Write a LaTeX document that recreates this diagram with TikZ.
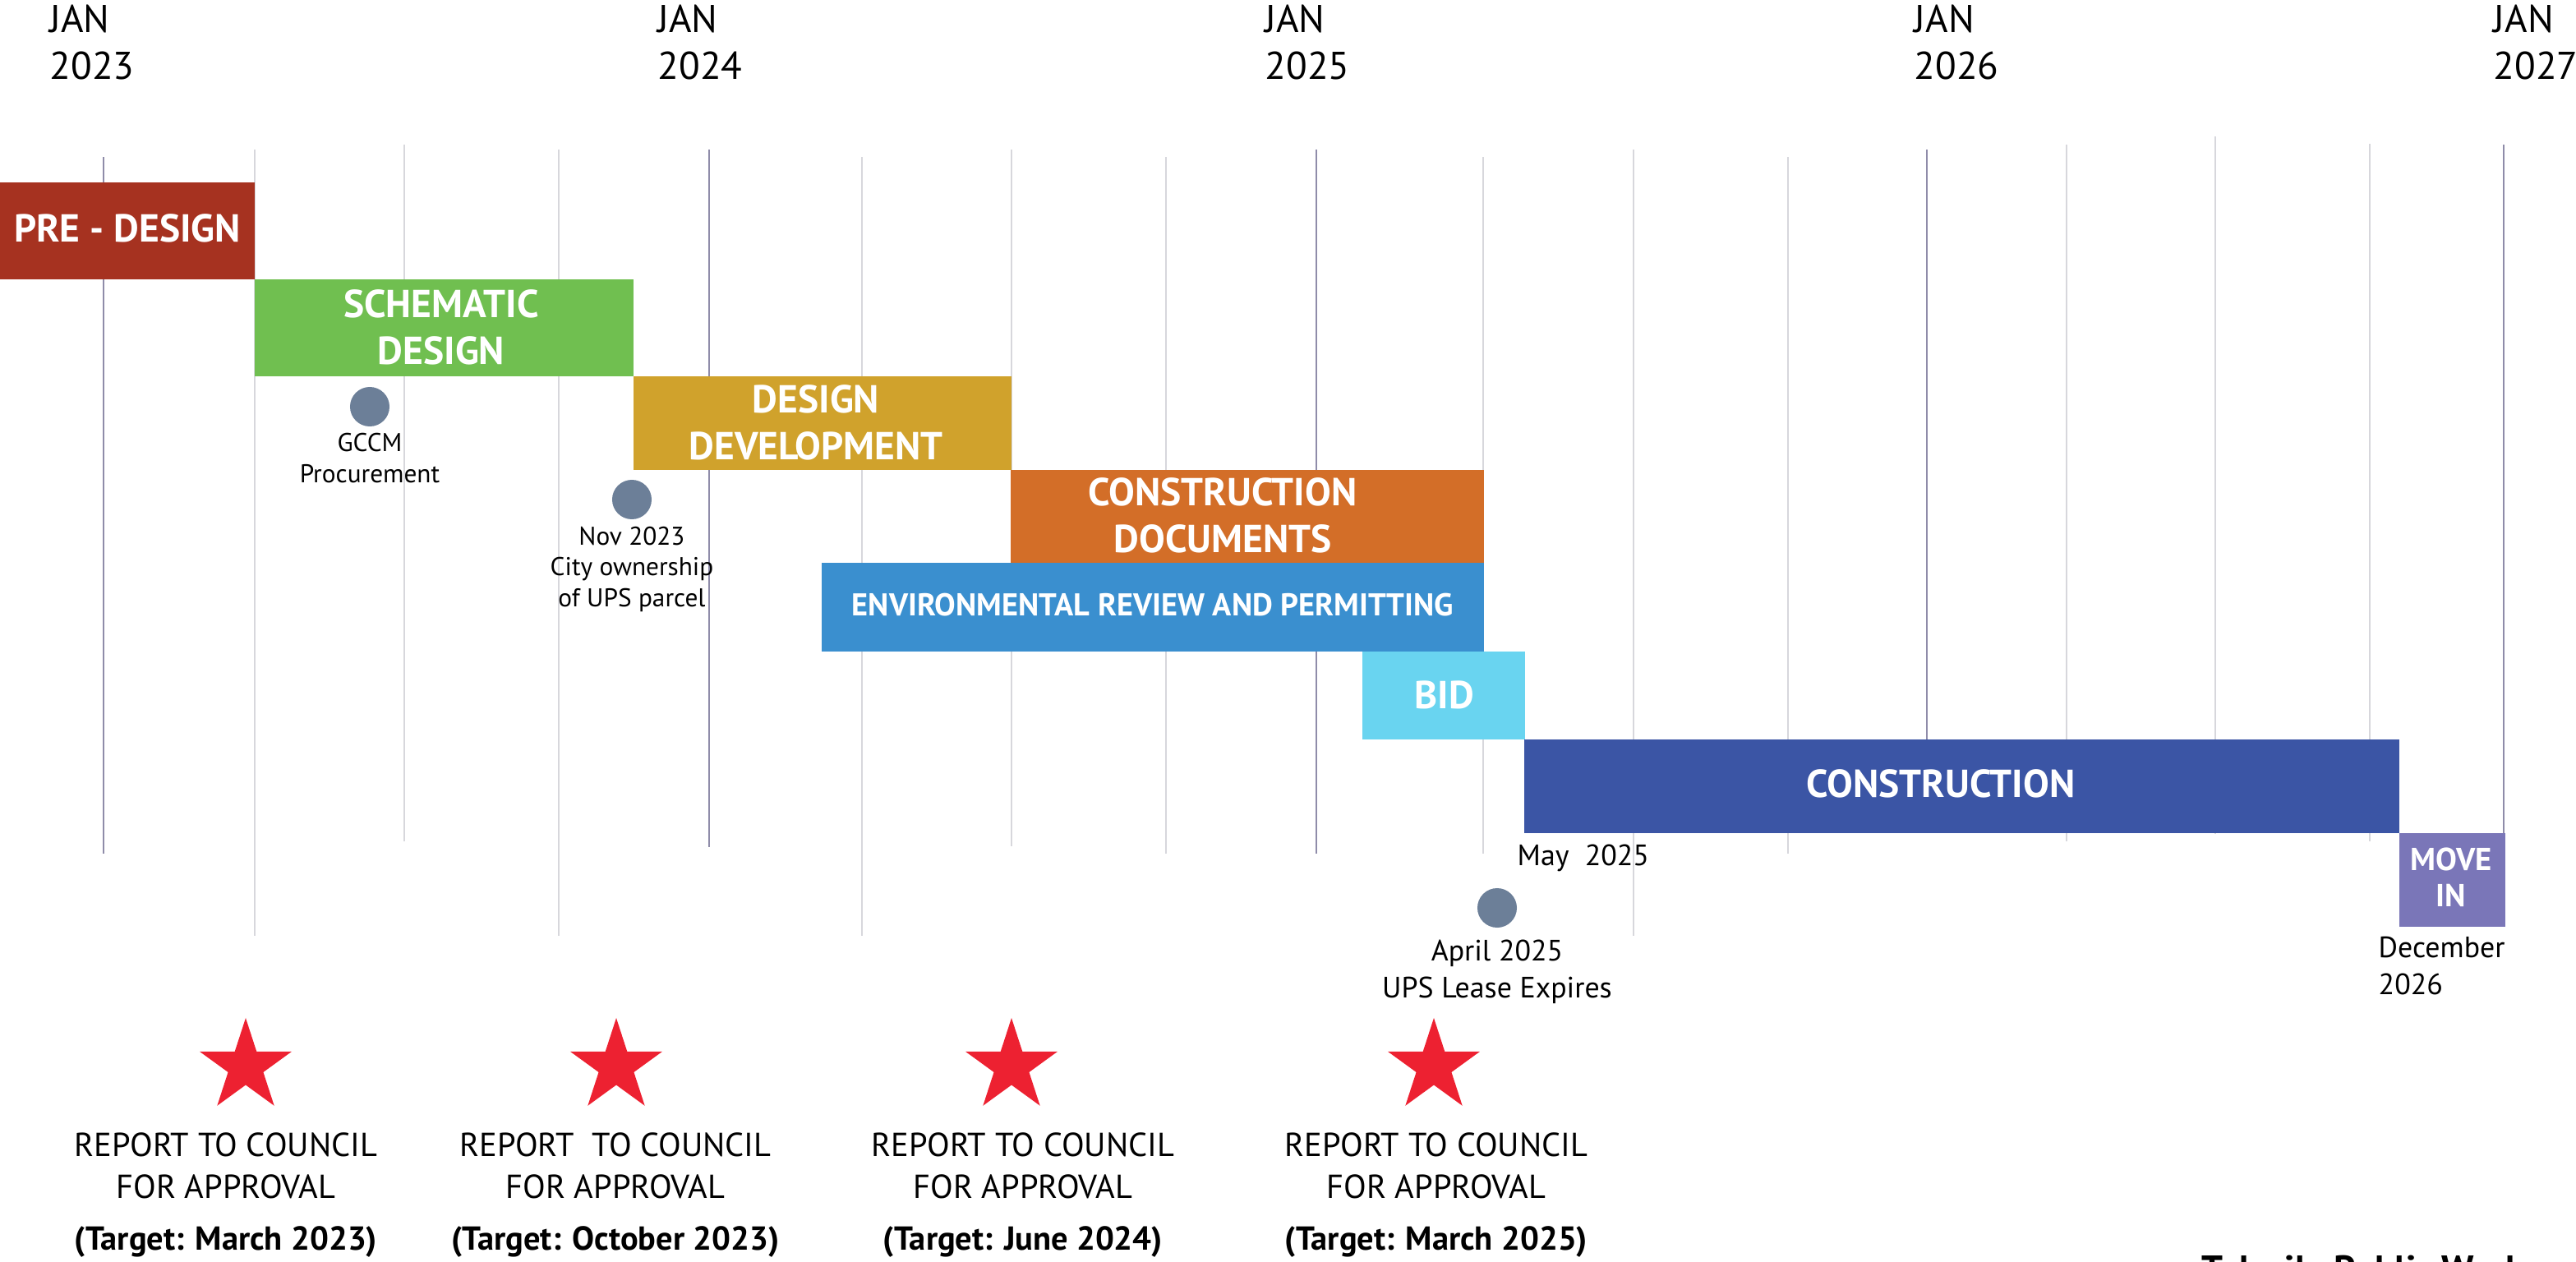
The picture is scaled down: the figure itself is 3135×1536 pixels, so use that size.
\documentclass[tikz,border=0pt]{standalone}
\usepackage{fontspec}
\setmainfont{PT Sans}
\usetikzlibrary{shapes.geometric}

\definecolor{predesign}{HTML}{A63220}
\definecolor{schematic}{HTML}{70BF50}
\definecolor{designdev}{HTML}{D0A22C}
\definecolor{constdocs}{HTML}{D36E28}
\definecolor{envreview}{HTML}{3A8FCF}
\definecolor{bidcol}{HTML}{69D4F0}
\definecolor{constr}{HTML}{3B55A5}
\definecolor{movein}{HTML}{7A76B8}
\definecolor{dotgray}{HTML}{6C7F98}
\definecolor{starred}{HTML}{ED2131}
\definecolor{majorgrid}{HTML}{8F8CA9}
\definecolor{minorgrid}{HTML}{D7D7DC}

\begin{document}
\begin{tikzpicture}[x=0.01cm, y=-0.01cm]
		\tikzset{
			majorline/.style={
				draw=majorgrid, line width=0.8pt
			},
			minorline/.style={
				draw=minorgrid, line width=0.5pt
			},
			yearlbl/.style={
				anchor=north west, inner sep=0, align=left,
				font=\fontsize{13.4}{16.2}\selectfont
			},
			barlbl/.style={
				inner sep=0, align=center, text=white,
				font=\bfseries\fontsize{13.5}{16.2}\selectfont
			},
			msdot/.style={
				circle, fill=dotgray, inner sep=0, minimum size=0.48cm
			},
			note/.style={
				anchor=north, inner sep=0, align=center,
				font=\fontsize{8.9}{10.8}\selectfont
			},
			bignote/.style={
				note, font=\fontsize{10.2}{12.8}\selectfont
			},
			starmark/.style={
				star, star points=5, star point ratio=2.618,
				fill=starred, inner sep=0, minimum size=1.18cm
			},
			report/.style={
				anchor=north, inner sep=0, align=center,
				font=\fontsize{11.5}{14.5}\selectfont
			}
		}
		
		\useasboundingbox (0,0) rectangle (3135,1536);
		
		% year heads
		\foreach \x/\yr in {60/2023, 800/2024, 1539/2025, 2329/2026, 3034/2027}{
			\node [yearlbl] (y\yr) at (\x,5) {JAN\\\yr};
		}
		
		% grid
		\foreach \x/\ya/\yb in {310/182/1139, 492/176/1024, 680/182/1139,
			1049/191/1139, 1231/182/1030, 1419/191/1039, 1805/191/1039,
			1988/182/1139, 2176/191/1039, 2515/176/1024, 2696/166/1015,
			2884/175/1024}{
			\draw [minorline] (\x,\ya) -- (\x,\yb);
		}
		\foreach \x/\ya/\yb in {126/191/1039, 863/182/1031, 1602/182/1039,
			2345/182/1014, 3047/176/1014}{
			\draw [majorline] (\x,\ya) -- (\x,\yb);
		}
		
		% phases
		\foreach \xa/\ya/\xb/\yb/\col in {0/222/310/340/predesign,
			310/340/771/458/schematic, 771/458/1231/572/designdev,
			1230/572/1806/685/constdocs, 1000/685/1806/793/envreview,
			1658/793/1856/900/bidcol, 1855/900/2920/1014/constr,
			2920/1014/3049/1128/movein}{
			\fill [\col] (\xa,\ya) rectangle (\xb,\yb);
		}
		
		\node [barlbl] (pre) at (155,278) {PRE - DESIGN};
		\node [barlbl] (sd) at (537,398) {SCHEMATIC\\DESIGN};
		\node [barlbl] (dd) at (993,514) {DESIGN\\DEVELOPMENT};
		\node [barlbl] (cd) at (1488,627) {CONSTRUCTION\\DOCUMENTS};
		\node [barlbl, font=\bfseries\fontsize{10.9}{12}\selectfont] (env) at (1403,736) {ENVIRONMENTAL REVIEW AND PERMITTING};
		\node [barlbl] (bid) at (1758,846) {BID};
		\node [barlbl] (con) at (2362,954) {CONSTRUCTION};
		\node [barlbl, font=\bfseries\fontsize{11}{12.5}\selectfont] (mi) at (2983,1068) {MOVE\\IN};
		
		% milestones
		\node [msdot] (gccm) at (450,495) {};
		\node [note] (gccmtxt) at (450,527) {GCCM\\Procurement};
		\node [msdot] (nov) at (769,608) {};
		\node [note] (novtxt) at (769,640) {Nov 2023\\City ownership\\of UPS parcel};
		\node [msdot] (apr) at (1822,1105) {};
		\node [bignote] (aprtxt) at (1822,1143) {April 2025\\UPS Lease Expires};
		\node [bignote, anchor=north west] (may) at (1846,1027) {May~ 2025};
		\node [bignote, anchor=north west, align=left] (dec) at (2894,1139) {December\\2026};
		
		% council reports
		\foreach \sx/\tx/\rep/\tgt [count=\i] in {299/275/{REPORT TO COUNCIL}/{March 2023},
			750/749/{REPORT~ TO COUNCIL}/{October 2023},
			1231/1245/{REPORT TO COUNCIL}/{June 2024},
			1745/1748/{REPORT TO COUNCIL}/{March 2025}}{
			\node [starmark] (star\i) at (\sx,1298) {};
			\node [report] (rep\i) at (\tx,1378) {\rep\\FOR APPROVAL\\[3.4pt]\textbf{(Target: \tgt)}};
		}
		
		\node [anchor=north west, inner sep=0, font=\bfseries\fontsize{13}{15}\selectfont] (tpw) at (2679,1527) {Tukwila Public Works};
\end{tikzpicture}
\end{document}
